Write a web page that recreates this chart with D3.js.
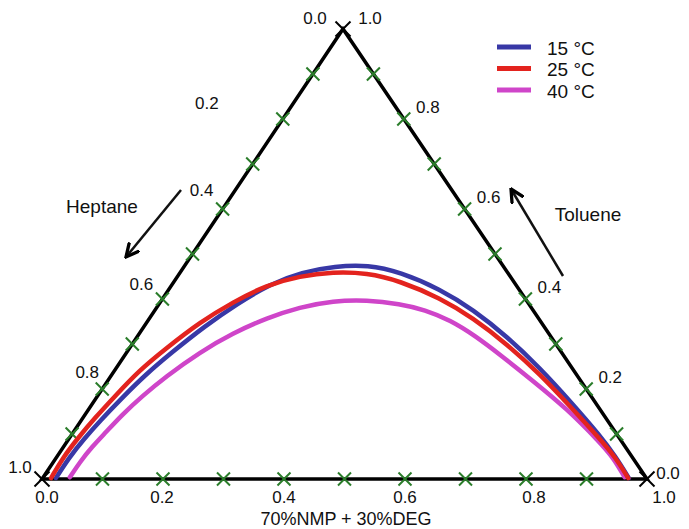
<!DOCTYPE html>
<html>
<head>
<meta charset="utf-8">
<script src="https://cdn.jsdelivr.net/npm/d3@7"></script>
<style>
  html, body { margin: 0; padding: 0; background: #fff; }
  svg { display: block; font-family: "Liberation Sans", Arial, Helvetica, sans-serif; }
</style>
</head>
<body>
<svg id="chart" width="689" height="529"></svg>
<script>
// ---------- data (ternary compositions: S = 70%NMP+30%DEG fraction, T = toluene fraction) ----------
const seriesNames = ["15 °C", "25 °C", "40 °C"];
const seriesColors = ["#3838a6", "#e3231e", "#cf45c9"];

const curve15_S = [0.022,0.021,0.025,0.032,0.042,0.056,0.074,0.100,0.129,0.161,0.201,0.249,0.302,0.363,0.448,0.526,0.612,0.700,0.787,0.875,0.922,0.969];
const curve15_T = [0.002,0.047,0.089,0.131,0.178,0.233,0.280,0.340,0.389,0.433,0.460,0.473,0.476,0.460,0.422,0.376,0.316,0.247,0.173,0.096,0.051,0.002];

const curve25_S = [0.014,0.011,0.014,0.020,0.029,0.041,0.060,0.088,0.120,0.157,0.202,0.252,0.309,0.373,0.458,0.534,0.619,0.707,0.792,0.878,0.923,0.968];
const curve25_T = [0.002,0.047,0.091,0.136,0.184,0.242,0.289,0.349,0.393,0.431,0.451,0.460,0.458,0.440,0.402,0.358,0.300,0.233,0.162,0.089,0.049,0.002];

const curve40_S = [0.044,0.044,0.047,0.054,0.061,0.074,0.091,0.121,0.154,0.194,0.236,0.284,0.339,0.398,0.446,0.499,0.558,0.620,0.703,0.790,0.881,0.921,0.961];
const curve40_T = [0.004,0.038,0.071,0.104,0.142,0.184,0.227,0.282,0.324,0.358,0.382,0.396,0.398,0.389,0.376,0.353,0.318,0.276,0.218,0.156,0.082,0.047,0.004];

const tickValues = [0.1,0.2,0.3,0.4,0.5,0.6,0.7,0.8,0.9];
const bottomLabels = ["0.0","0.2","0.4","0.6","0.8","1.0"];
const leftLabels   = ["0.2","0.4","0.6","0.8"];   // heptane, 0 at top
const rightLabels  = ["0.8","0.6","0.4","0.2"];   // toluene, 1 at top
const axisTitle = "70%NMP + 30%DEG";
const heptaneLabel = "Heptane";
const tolueneLabel = "Toluene";

// ---------- layout ----------
const svg = d3.select("#chart");
const BL = {x: 42, y: 479}, BR = {x: 647, y: 479}, TOP = {x: 343, y: 29};

const sScale = d3.scaleLinear().domain([0, 1]).range([BL.x, BR.x]);
const tScale = d3.scaleLinear().domain([0, 1]).range([BL.y, TOP.y]);
const proj = (S, T) => [sScale(S) + (TOP.x - BL.x) * T, tScale(T)];

const FONT = 17;

// triangle
svg.append("path")
  .attr("d", d3.line()([proj(0,0), proj(1,0), proj(0,1), proj(0,0)]) + "Z")
  .attr("fill", "none").attr("stroke", "#000").attr("stroke-width", 3.5)
  .attr("stroke-linejoin", "miter");

// X markers
function xMark(p, size, color, width) {
  const g = svg.append("g").attr("transform", `translate(${p[0]},${p[1]})`);
  g.append("line").attr("x1", -size).attr("y1", -size).attr("x2", size).attr("y2", size)
    .attr("stroke", color).attr("stroke-width", width);
  g.append("line").attr("x1", -size).attr("y1", size).attr("x2", size).attr("y2", -size)
    .attr("stroke", color).attr("stroke-width", width);
}
tickValues.forEach(v => {
  xMark(proj(v, 0), 6.5, "#2a7d2a", 2);      // bottom
  xMark(proj(0, 1 - v), 6.5, "#2a7d2a", 2);  // left (heptane)
  xMark(proj(1 - v, v), 6.5, "#2a7d2a", 2);  // right (toluene)
});
[proj(0,0), proj(1,0), proj(0,1)].forEach(p => xMark(p, 7.5, "#000", 2));

// tick labels
function label(txt, x, y, anchor, size) {
  svg.append("text").attr("x", x).attr("y", y).attr("text-anchor", anchor || "middle")
    .attr("dominant-baseline", "central").attr("font-size", size || FONT).attr("fill", "#111").text(txt);
}
const bottomOffsets = [5, -1, 0, 0, 8, 17];
bottomLabels.forEach((t, i) => {
  const p = proj(+t, 0);
  label(t, p[0] + bottomOffsets[i], 497);
});
const leftOffsets = [[-76,-16],[-21,-19],[-21,-15],[-15,-17]];
leftLabels.forEach((t, i) => {
  const p = proj(0, 1 - (+t));
  label(t, p[0] + leftOffsets[i][0], p[1] + leftOffsets[i][1]);
});
rightLabels.forEach((t, i) => {
  const v = +t;
  const p = proj(1 - v, v);
  label(t, p[0] + 24, p[1] - 12);
});
label("0.0", TOP.x - 28, 18);
label("1.0", TOP.x + 27, 18);
label("1.0", BL.x - 22, BL.y - 12);
label("0.0", BR.x + 21, BR.y - 6);

// axis title
label(axisTitle, 346, 519, "middle", 18);

// curves
const line = d3.line().curve(d3.curveBasis);
const curves = [[curve15_S, curve15_T], [curve25_S, curve25_T], [curve40_S, curve40_T]];
[2, 0, 1].forEach(i => {
  const pts = curves[i][0].map((s, k) => proj(s, curves[i][1][k]));
  svg.append("path").attr("d", line(pts)).attr("fill", "none")
    .attr("stroke", seriesColors[i]).attr("stroke-width", 4.5)
    .attr("stroke-linecap", "round").attr("stroke-linejoin", "round");
});

// arrows
svg.append("defs").append("marker").attr("id", "arr")
  .attr("viewBox", "0 0 10 10").attr("refX", 9).attr("refY", 5)
  .attr("markerWidth", 6).attr("markerHeight", 6).attr("orient", "auto")
  .append("path").attr("d", "M0,0.5 L9,5 L0,9.5").attr("fill", "none")
  .attr("stroke", "#000").attr("stroke-width", 2.2);
svg.append("line").attr("x1", 181).attr("y1", 190).attr("x2", 126).attr("y2", 257)
  .attr("stroke", "#111").attr("stroke-width", 2.5).attr("marker-end", "url(#arr)");
svg.append("line").attr("x1", 563).attr("y1", 276).attr("x2", 511).attr("y2", 189)
  .attr("stroke", "#111").attr("stroke-width", 2.5).attr("marker-end", "url(#arr)");
label(heptaneLabel, 102, 206, "middle", 19);
label(tolueneLabel, 588, 214, "middle", 19);

// legend
seriesNames.forEach((n, i) => {
  const y = 47 + i * 21.5;
  svg.append("line").attr("x1", 497).attr("x2", 531).attr("y1", y).attr("y2", y)
    .attr("stroke", seriesColors[i]).attr("stroke-width", 5);
  label(n, 547, y + 1, "start", 19);
});
</script>
</body>
</html>
